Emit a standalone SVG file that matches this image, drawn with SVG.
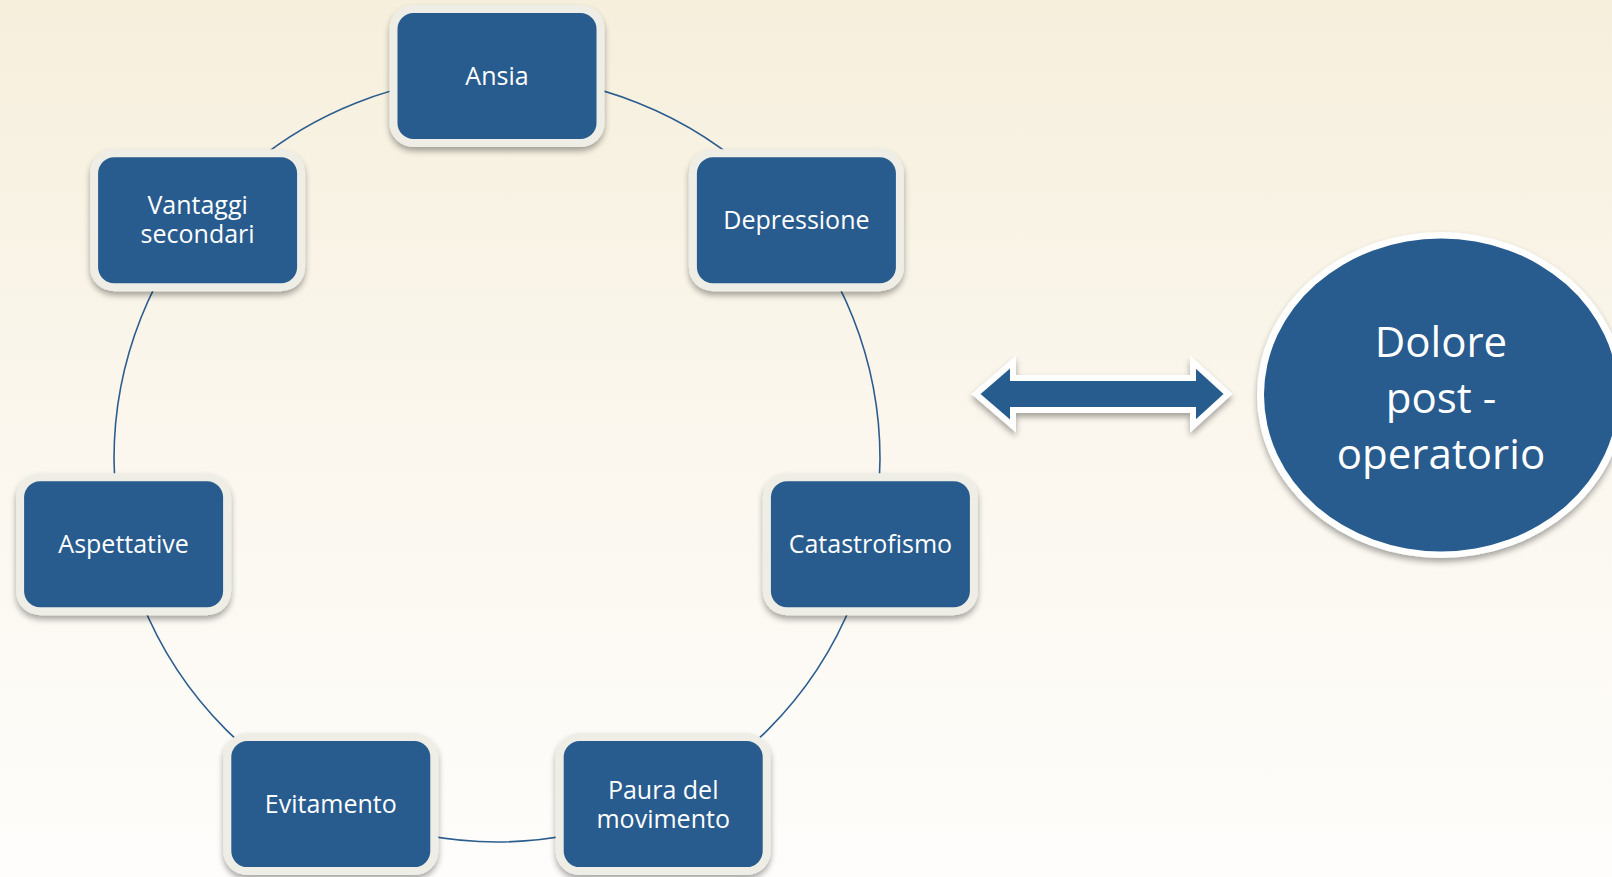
<svg xmlns="http://www.w3.org/2000/svg" width="1612" height="877" viewBox="0 0 1612 877">
  <defs>
    <linearGradient id="bg" x1="0" y1="0" x2="0" y2="1">
      <stop offset="0" stop-color="#f6efdc"/>
      <stop offset="0.5" stop-color="#fbf7ee"/>
      <stop offset="1" stop-color="#fefdfb"/>
    </linearGradient>
    <filter id="shadow" x="-20%" y="-20%" width="140%" height="150%">
      <feGaussianBlur in="SourceAlpha" stdDeviation="3"/>
      <feOffset dx="0" dy="4" result="b"/>
      <feComponentTransfer><feFuncA type="linear" slope="0.35"/></feComponentTransfer>
      <feMerge><feMergeNode/><feMergeNode in="SourceGraphic"/></feMerge>
    </filter>
  </defs>
  <style>
    .frame { fill: #efeee6; filter: url(#shadow); }
    .box { fill: #285b8e; }
    .label { fill: #ffffff; font-family: "Open Sans", "Liberation Sans", sans-serif; font-size: 25px; text-anchor: middle; }
    .big { fill: #ffffff; font-family: "Open Sans", "Liberation Sans", sans-serif; font-size: 42px; text-anchor: middle; }
    .ring { fill: none; stroke: #2c5d8f; stroke-width: 1.6; }
  </style>

  <rect width="1612" height="877" fill="url(#bg)"/>

  <!-- cycle ring linking the seven factors -->
  <g id="connectors">
    <circle class="ring" cx="497" cy="459" r="383"/>
  </g>

  <g id="ansia">
    <rect class="frame" x="389.5" y="5" width="215" height="142" rx="24"/>
    <rect class="box" x="397.5" y="13" width="199" height="126" rx="16"/>
    <text class="label" x="497" y="85">Ansia</text>
  </g>

  <g id="depressione">
    <rect class="frame" x="688.9" y="149.2" width="215" height="142" rx="24"/>
    <rect class="box" x="696.9" y="157.2" width="199" height="126" rx="16"/>
    <text class="label" x="796.4" y="229">Depressione</text>
  </g>

  <g id="catastrofismo">
    <rect class="frame" x="762.9" y="473.2" width="215" height="142" rx="24"/>
    <rect class="box" x="770.9" y="481.2" width="199" height="126" rx="16"/>
    <text class="label" x="870.4" y="553">Catastrofismo</text>
  </g>

  <g id="paura">
    <rect class="frame" x="555.7" y="733.1" width="215" height="142" rx="24"/>
    <rect class="box" x="563.7" y="741.1" width="199" height="126" rx="16"/>
    <text class="label" x="663.2" y="799">Paura del</text>
    <text class="label" x="663.2" y="828">movimento</text>
  </g>

  <g id="evitamento">
    <rect class="frame" x="223.3" y="733.1" width="215" height="142" rx="24"/>
    <rect class="box" x="231.3" y="741.1" width="199" height="126" rx="16"/>
    <text class="label" x="330.8" y="813">Evitamento</text>
  </g>

  <g id="aspettative">
    <rect class="frame" x="16.1" y="473.2" width="215" height="142" rx="24"/>
    <rect class="box" x="24.1" y="481.2" width="199" height="126" rx="16"/>
    <text class="label" x="123.6" y="553">Aspettative</text>
  </g>

  <g id="vantaggi">
    <rect class="frame" x="90.1" y="149.2" width="215" height="142" rx="24"/>
    <rect class="box" x="98.1" y="157.2" width="199" height="126" rx="16"/>
    <text class="label" x="197.6" y="214">Vantaggi</text>
    <text class="label" x="197.6" y="243">secondari</text>
  </g>

  <!-- two-way arrow between the cycle and the outcome -->
  <g id="arrow">
    <polygon points="976,394 1013,362 1013,378 1193,378 1193,362 1228,394 1193,426 1193,410 1013,410 1013,426"
             fill="#285b8e" stroke="#ffffff" stroke-width="6" stroke-linejoin="miter" filter="url(#shadow)"/>
  </g>

  <g id="dolore">
    <ellipse cx="1441" cy="395" rx="184" ry="163" fill="#ffffff" filter="url(#shadow)"/>
    <ellipse cx="1441" cy="395" rx="177" ry="156.5" fill="#285b8e"/>
    <text class="big" x="1441" y="357">Dolore</text>
    <text class="big" x="1441" y="413">post -</text>
    <text class="big" x="1441" y="469">operatorio</text>
  </g>
</svg>
